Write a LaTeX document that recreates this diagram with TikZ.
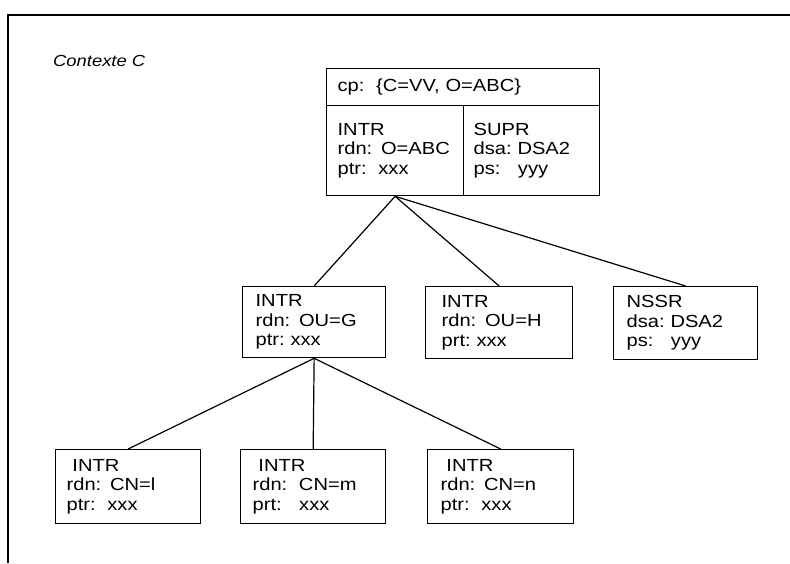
\documentclass[tikz,border=0pt]{standalone}
\usepackage{fontspec}
\setmainfont{Liberation Sans}[FakeStretch=1.15]
\begin{document}
\begin{tikzpicture}[x=1pt,y=-1pt,
  box/.style={draw, line width=1.3pt, anchor=north west, align=left,
    inner ysep=0pt, font=\fontsize{17.5}{19.5}\selectfont},
  link/.style={line width=1.2pt},
  frameline/.style={line width=1.4pt}]
\useasboundingbox (0,0) rectangle (790,563);
\draw[frameline] (8,563) -- (8,15) -- (790,15);
\node[anchor=west, inner sep=0pt, font=\itshape\fontsize{16}{18}\selectfont] (ctx) at (53,61) {Contexte C};
% top box
\node[box, inner xsep=11pt, minimum width=273pt, minimum height=37pt, text width=251pt] (cp) at (326,68) {cp:\ \ \{C=VV, O=ABC\}};
\node[box, inner xsep=11pt, minimum width=137pt, minimum height=90pt, text width=115pt] (tl) at (326,105) {INTR\\rdn: O=ABC\\ptr:\ \ xxx};
\node[box, inner xsep=10pt, minimum width=136pt, minimum height=90pt, text width=116pt] (tr) at (463,105) {SUPR\\dsa:\ DSA2\\ps:\ \ \ yyy};
% middle row
\node[box, inner xsep=13pt, minimum width=143pt, minimum height=71pt, text width=117pt] (m1) at (242,286) {INTR\\rdn: OU=G\\ptr:\ xxx};
\node[box, inner xsep=16pt, minimum width=147pt, minimum height=72pt, text width=115pt] (m2) at (425,286) {INTR\\rdn: OU=H\\prt:\ xxx};
\node[box, inner xsep=13pt, minimum width=144pt, minimum height=73pt, text width=118pt] (m3) at (613,286) {NSSR\\dsa:\ DSA2\\ps:\ \ \ yyy};
% bottom row
\node[box, inner xsep=11pt, minimum width=145pt, minimum height=74pt, text width=123pt] (b1) at (55,449) {\ INTR\\rdn: CN=l\\ptr:\ \ xxx};
\node[box, inner xsep=12pt, minimum width=145pt, minimum height=74pt, text width=121pt] (b2) at (240,449) {\ INTR\\rdn:\ \ CN=m\\prt:\ \ \ xxx};
\node[box, inner xsep=13pt, minimum width=146pt, minimum height=74pt, text width=120pt] (b3) at (427,449) {\ INTR\\rdn: CN=n\\ptr:\ \ xxx};
% connectors
\draw[link] (tl.south) -- (m1.north);
\draw[link] (tl.south) -- (m2.north);
\draw[link] (tl.south) -- (m3.north);
\draw[link] (m1.south) -- (b1.north);
\draw[link] (m1.south) -- (b2.north);
\draw[link] (m1.south) -- (b3.north);
\end{tikzpicture}
\end{document}
